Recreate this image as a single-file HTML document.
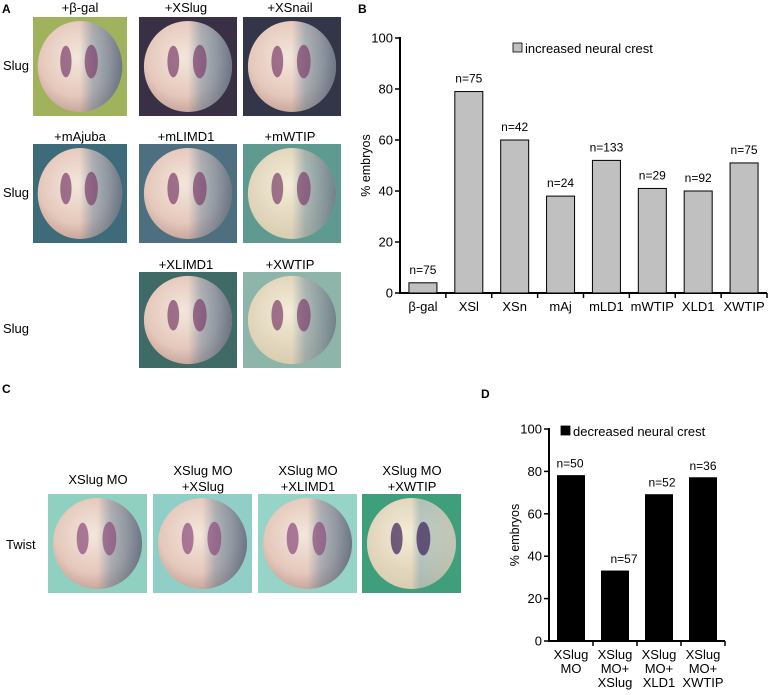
<!DOCTYPE html>
<html><head><meta charset="utf-8"><style>
body{margin:0;background:#fff;width:769px;height:695px;overflow:hidden}
svg{display:block;font-family:"Liberation Sans",Arial,sans-serif}
</style></head><body>
<svg id="fig" width="769" height="695" viewBox="0 0 769 695" xmlns="http://www.w3.org/2000/svg">
<defs>
<radialGradient id="egg" cx="45%" cy="40%" r="60%"><stop offset="0" stop-color="#f3e6dc"/><stop offset="0.7" stop-color="#e6c8bc"/><stop offset="1" stop-color="#c9a79c"/></radialGradient>
<radialGradient id="eggy" cx="45%" cy="40%" r="60%"><stop offset="0" stop-color="#f4ecd8"/><stop offset="1" stop-color="#d9ccb0"/></radialGradient>
<linearGradient id="blueR" x1="0" x2="1"><stop offset="0.5" stop-color="#3a6f90" stop-opacity="0"/><stop offset="0.65" stop-color="#3a6f90" stop-opacity="0.35"/><stop offset="1" stop-color="#2a4f70" stop-opacity="0.6"/></linearGradient>
<linearGradient id="blueL" x1="0" x2="1"><stop offset="0.5" stop-color="#2f6e8a" stop-opacity="0"/><stop offset="0.6" stop-color="#3a8aa8" stop-opacity="0.3"/><stop offset="1" stop-color="#3a8aa8" stop-opacity="0.15"/></linearGradient>
</defs>
<g id="panelA"></g>
<g id="panelC"></g>
<g id="chartB"></g>
<g id="chartD"></g>
</svg>
<script>
// Chart B data
const bCats = ["β-gal","XSl","XSn","mAj","mLD1","mWTIP","XLD1","XWTIP"];
const bVals = [4,79,60,38,52,41,40,51];
const bN = ["n=75","n=75","n=42","n=24","n=133","n=29","n=92","n=75"];
const bTicks = [0,20,40,60,80,100];
// Chart D data
const dCats = [["XSlug","MO"],["XSlug","MO+","XSlug"],["XSlug","MO+","XLD1"],["XSlug","MO+","XWTIP"]];
const dVals = [78,33,69,77];
const dN = ["n=50","n=57","n=52","n=36"];
const dTicks = [0,20,40,60,80,100];

const NS="http://www.w3.org/2000/svg";
function mk(parent,tag,attrs,text){const e=document.createElementNS(NS,tag);for(const k in attrs)e.setAttribute(k,attrs[k]);if(text!==undefined)e.textContent=text;parent.appendChild(e);return e;}

function photo(g,x,y,w,h,bg,name,opts){
  const p=mk(g,'g',{});
  
  
  mk(p,'rect',{x:x,y:y,width:w,height:h,fill:bg});
  const cx=x+w/2,cy=y+h/2;
  mk(p,'ellipse',{cx:cx,cy:cy,rx:w*0.45,ry:h*0.46,fill:opts.yellow?'url(#eggy)':'url(#egg)'});
  mk(p,'ellipse',{cx:cx,cy:cy,rx:w*0.45,ry:h*0.46,fill:opts.blue||'url(#blueR)'});
  const c=opts.stain||'#7a3f6a';
  mk(p,'ellipse',{cx:cx-w*0.15,cy:cy-h*0.05,rx:w*0.06,ry:h*0.16,fill:c,opacity:0.7});
  mk(p,'ellipse',{cx:cx+w*0.12,cy:cy-h*0.05,rx:w*0.07,ry:h*0.17,fill:c,opacity:0.7});
}
const A=document.getElementById('panelA');
mk(A,'text',{x:2,y:13,'font-size':12,'font-weight':'bold'},'A');
const colsA=[33,136,240], w=94, h=99;
const rowsA=[{y:17,lab:8},{y:144,lab:137},{y:272,lab:265}];
const aLabels=[["+β-gal","+XSlug","+XSnail"],["+mAjuba","+mLIMD1","+mWTIP"],[null,"+XLIMD1","+XWTIP"]];
const aBg=[["#a0b35c","#3a3045","#333548"],["#3d6b7a","#4d6f80","#5f9a90"],[null,"#3f6a66","#8eb5aa"]];
for(let r=0;r<3;r++){
  const l=mk(A,'text',{x:3,y:rowsA[r].y+(r==2?61:53),'font-size':13},'Slug');
  
  
  for(let c=0;c<3;c++){
    if(!aLabels[r][c])continue;
    mk(A,'text',{x:colsA[c]+w/2+(c?3:0),y:rowsA[r].lab+4,'font-size':13,'text-anchor':'middle'},aLabels[r][c]);
    photo(A,colsA[c]+(c?3:0),rowsA[r].y,c?98:w,r==2?96:h,aBg[r][c],'embryo-photo',{yellow:(r==1&&c==2)||(r==2&&c==2)});
  }
}
const C=document.getElementById('panelC');
mk(C,'text',{x:2,y:393,'font-size':12,'font-weight':'bold'},'C');
mk(C,'text',{x:6,y:549,'font-size':13},'Twist');
const colsC=[48,153,258,362];
const cLab=[["XSlug MO"],["XSlug MO","+XSlug"],["XSlug MO","+XLIMD1"],["XSlug MO","+XWTIP"]];
const cBg=["#8fd0c0","#8fcfc8","#95d4c6","#3f9e7c"];
for(let i=0;i<4;i++){
  const cx=colsC[i]+50;
  if(cLab[i].length==1) mk(C,'text',{x:cx,y:484,'font-size':13,'text-anchor':'middle'},cLab[i][0]);
  else{mk(C,'text',{x:cx,y:475,'font-size':13,'text-anchor':'middle'},cLab[i][0]);mk(C,'text',{x:cx,y:491,'font-size':13,'text-anchor':'middle'},cLab[i][1]);}
  photo(C,colsC[i],494,99,99,cBg[i],'embryo-photo',{yellow:i==3,stain:i==3?'#3a1f55':'#8a4c7a',blue:i==3?'url(#blueL)':'url(#blueR)'});
}

function barChart(gid,cats,vals,ns,ticks,o){
  const g=document.getElementById(gid);
  const y=v=>o.y0-(v/100)*(o.y0-o.y100);
  const step=(o.xEnd-o.x0)/cats.length;
  mk(g,'text',{x:o.lx,y:o.ly,'font-size':12,'font-weight':'bold'},o.letter);
  mk(g,'line',{x1:o.x0,y1:o.y100-1,x2:o.x0,y2:o.y0+1,stroke:'#000','stroke-width':2});
  mk(g,'line',{x1:o.x0-1,y1:o.y0,x2:o.xEnd,y2:o.y0,stroke:'#000','stroke-width':2});
  ticks.forEach(t=>{
    mk(g,'line',{x1:o.x0-5,y1:y(t),x2:o.x0,y2:y(t),stroke:'#000','stroke-width':1.5});
    const tl=mk(g,'text',{x:o.x0-7,y:y(t)+4.5,'font-size':13,'text-anchor':'end'},t);
    
    
  });
  for(let i=1;i<=cats.length;i++) mk(g,'line',{x1:o.x0+step*i,y1:o.y0,x2:o.x0+step*i,y2:o.y0+5,stroke:'#000','stroke-width':1.5});
  const yt=mk(g,'text',{x:0,y:0,'font-size':12.5,'text-anchor':'middle',transform:`translate(${o.x0-30},${(o.y0+o.y100)/2}) rotate(-90)`},'% embryos');
  
  
  cats.forEach((c,i)=>{
    const cx=o.x0+step*(i+0.5);
    const b=mk(g,'rect',{x:cx-o.bw/2,y:y(vals[i]),width:o.bw,height:o.y0-y(vals[i]),fill:o.fill,stroke:'#000','stroke-width':1});
    
    
    mk(g,'text',{x:cx+(o.nshift?o.nshift[i]:0),y:y(vals[i])-o.ngap,'font-size':12,'text-anchor':'middle'},ns[i]);
    const lines=Array.isArray(c)?c:[c];
    lines.forEach((s,k)=>{
      const t=mk(g,'text',{x:cx,y:o.y0+18+k*14,'font-size':13,'text-anchor':'middle'},s);
      
      
    });
  });
  const lg=mk(g,'g',{});
  
  
  mk(lg,'rect',{x:o.legX,y:o.legY-10,width:9,height:9,fill:o.fill,stroke:'#000','stroke-width':0.8});
  mk(lg,'text',{x:o.legX+12,y:o.legY,'font-size':13},o.legend);
}
barChart('chartB',bCats,bVals,bN,bTicks,{x0:400,xEnd:767,y0:293,y100:38,bw:28,fill:'#c0c0c0',ngap:9,letter:'B',lx:358,ly:13,legX:513,legY:53,legend:'increased neural crest'});
barChart('chartD',dCats,dVals,dN,dTicks,{x0:549,xEnd:725,y0:641,y100:429,bw:27,fill:'#000',ngap:8,nshift:[-1,9,3,0],letter:'D',lx:481,ly:398,legX:561,legY:436,legend:'decreased neural crest'});
</script>
</body></html>
